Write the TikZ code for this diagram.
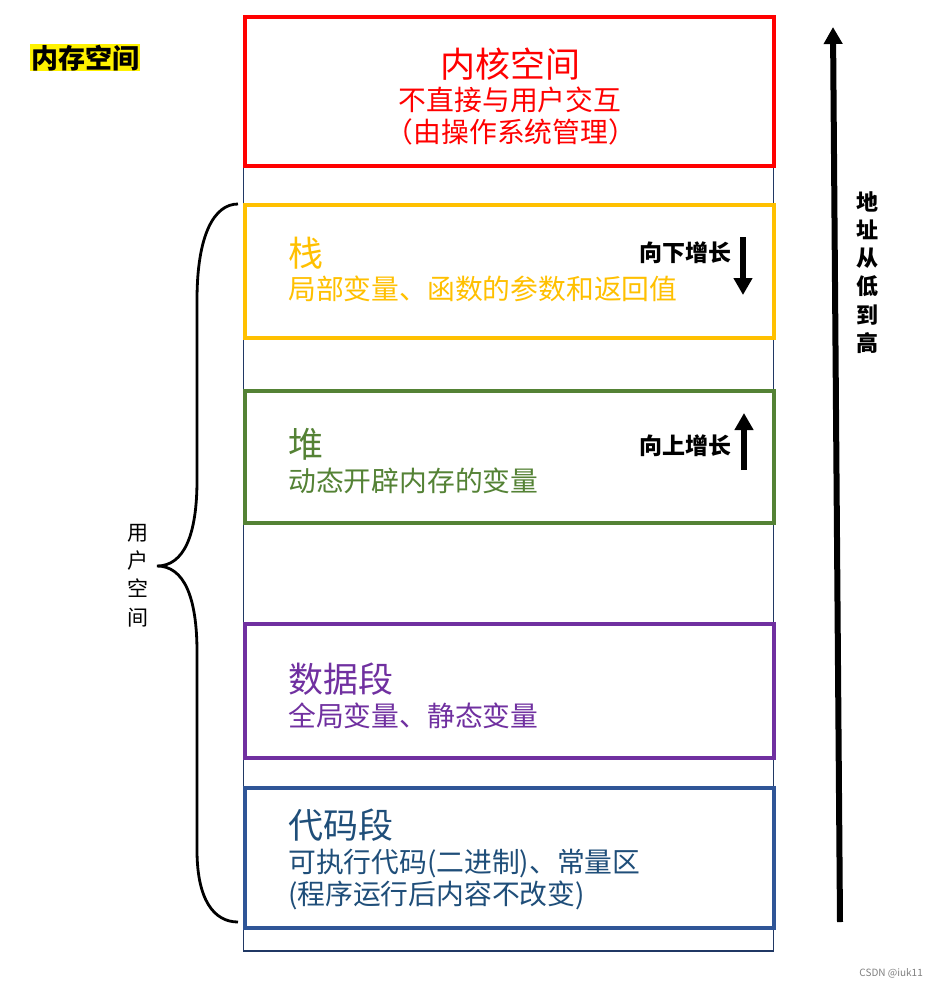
\documentclass[tikz,border=0pt]{standalone}
\usepackage{fontspec}
\newfontfamily\cjk{Noto Sans CJK SC}
\usetikzlibrary{arrows.meta}
\definecolor{kred}{HTML}{FF0000}
\definecolor{kyel}{HTML}{FFC000}
\definecolor{kgrn}{HTML}{548235}
\definecolor{kpur}{HTML}{7030A0}
\definecolor{kblu}{HTML}{2F5597}
\definecolor{kblutxt}{HTML}{1F4E79}
\definecolor{knavy}{HTML}{203864}
\tikzset{
  segbox/.style={draw=#1, line width=4pt, rectangle, inner sep=0pt, outer sep=0pt, anchor=north west},
  ttllbl/.style={font=\cjk\fontsize{35}{40}\selectfont, inner sep=0pt, anchor=base west},
  sublbl/.style={font=\cjk\fontsize{27.8}{32}\selectfont, inner sep=0pt, anchor=base west},
  growlbl/.style={font=\cjk\bfseries\fontsize{23}{26}\selectfont, inner sep=0pt, anchor=base west},
  bigarrow/.style={line width=6pt, -{Triangle[length=17pt,width=18pt]}},
  vtext/.style={font=\cjk\fontsize{#1}{28.4}\selectfont, align=center, inner sep=0pt}
}
\begin{document}
\begin{tikzpicture}[x=1pt,y=-1pt]
\useasboundingbox[fill=white] (0,0) rectangle (939,986);
% outer frame
\node[draw=knavy, line width=1.8pt, rectangle, inner sep=0pt, outer sep=0pt, anchor=north west,
  minimum width=530pt, minimum height=935pt] (frame) at (243.5,16) {};
% segments
\node[segbox=kred, minimum width=529.5pt, minimum height=148.5pt] (kernel) at (244.5,17) {};
\node[segbox=kyel, minimum width=529.5pt, minimum height=133.5pt] (stack) at (244.5,204.5) {};
\node[segbox=kgrn, minimum width=529.5pt, minimum height=132pt] (heap) at (244.5,391) {};
\node[segbox=kpur, minimum width=529.5pt, minimum height=134pt] (data) at (244.5,624) {};
\node[segbox=kblu, minimum width=529.5pt, minimum height=139.5pt] (code) at (244.5,788) {};
% title label
\node[fill=yellow, inner sep=0pt, minimum width=110pt, minimum height=27pt, anchor=north west,
  font=\cjk\bfseries\fontsize{27}{30}\selectfont] (mem) at (30,44) {内存空间};
% kernel text
\node[font=\cjk\fontsize{35}{40}\selectfont, text=kred, inner sep=0pt, anchor=base] (kt) at (510,77.5) {内核空间};
\node[font=\cjk\fontsize{27.8}{32}\selectfont, text=kred, inner sep=0pt, anchor=base] (ks1) at (510,110.5) {不直接与用户交互};
\node[font=\cjk\fontsize{27.8}{32}\selectfont, text=kred, inner sep=0pt, anchor=base] (ks2) at (511,142.5) {（由操作系统管理）};
% stack text
\node[ttllbl, text=kyel] (st) at (288,266.5) {栈};
\node[sublbl, text=kyel] (ss) at (288,299.5) {局部变量、函数的参数和返回值};
\node[growlbl] (down) at (639,261.5) {向下增长};
\coordinate (d1) at (743,237);
\coordinate (d2) at (743,295);
\draw[bigarrow] (d1) -- (d2);
% heap text
\node[ttllbl, text=kgrn] (ht) at (288,457.5) {堆};
\node[sublbl, text=kgrn] (hs) at (288,491.5) {动态开辟内存的变量};
\node[growlbl] (up) at (639,454.5) {向上增长};
\coordinate (u1) at (744,470);
\coordinate (u2) at (744,413);
\draw[bigarrow] (u1) -- (u2);
% data text
\node[ttllbl, text=kpur] (dt) at (288,692.5) {数据段};
\node[sublbl, text=kpur] (ds) at (288,726.5) {全局变量、静态变量};
% code text
\node[ttllbl, text=kblutxt] (ct) at (288,838.5) {代码段};
\node[sublbl, text=kblutxt] (cs1) at (288,872.5) {可执行代码(二进制)、常量区};
\node[sublbl, text=kblutxt] (cs2) at (288,904.5) {(程序运行后内容不改变)};
% brace
\coordinate (bt) at (238,204);
\coordinate (bm) at (157,566);
\coordinate (bb) at (238,922);
\draw[line width=2.8pt] (bt) .. controls (214,204) and (197,235) .. (197,300)
  -- (197,480) .. controls (197,535) and (184,566) .. (bm)
  .. controls (184,566) and (197,597) .. (197,652)
  -- (197,850) .. controls (197,900) and (214,922) .. (bb);
\node[vtext=21] (user) at (138,575.5) {用\\户\\空\\间};
% address arrow
\coordinate (a1) at (840,922);
\coordinate (a2) at (833,27);
\draw[bigarrow] (a1) -- (a2);
\node[vtext=22, font=\cjk\bfseries\fontsize{22}{28.2}\selectfont] (addr) at (867,272.5) {地\\址\\从\\低\\到\\高};
% watermark
\node[font=\cjk\fontsize{10}{12}\selectfont, text=black!50, inner sep=0pt, anchor=base east] (wm) at (923,976) {CSDN @iuk11};
\end{tikzpicture}
\end{document}
